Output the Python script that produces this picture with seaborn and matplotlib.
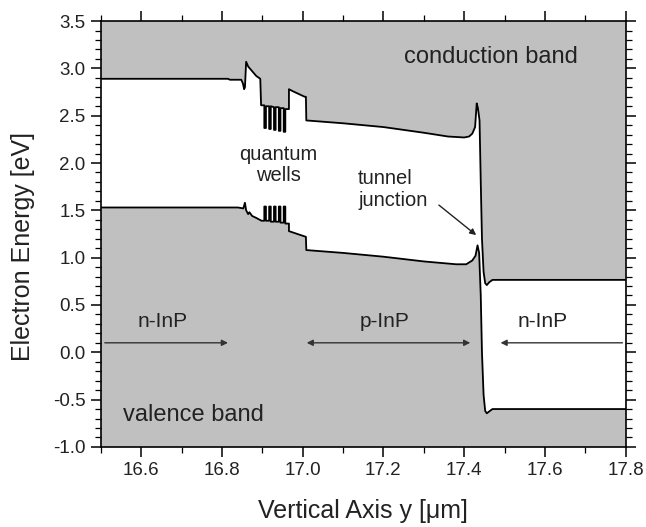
import numpy as np
import pandas as pd
import matplotlib
matplotlib.use("Agg")
import matplotlib.pyplot as plt
from matplotlib.ticker import MultipleLocator
import seaborn as sns

# ---- data ----
# Conduction band edge (position in um, energy in eV)
ec_x = [16.50, 16.815, 16.82, 16.848, 16.852, 16.855, 16.857, 16.860, 16.865, 16.875, 16.885, 16.895, 16.897,
        16.905, 16.905, 16.909, 16.909,
        16.917, 16.917, 16.921, 16.921,
        16.929, 16.929, 16.933, 16.933,
        16.941, 16.941, 16.945, 16.945,
        16.953, 16.953, 16.957, 16.957,
        16.966, 16.966, 16.975, 16.990, 17.005, 17.008, 17.009,
        17.10, 17.20, 17.30, 17.36, 17.40, 17.412, 17.420, 17.427, 17.431, 17.434, 17.438,
        17.441, 17.444, 17.448, 17.452, 17.456, 17.462, 17.470, 17.80]
ec_e = [2.89, 2.89, 2.88, 2.88, 2.84, 2.78, 2.80, 3.07, 3.02, 2.97, 2.92, 2.89, 2.61,
        2.61, 2.37, 2.37, 2.60,
        2.60, 2.36, 2.36, 2.60,
        2.59, 2.35, 2.35, 2.59,
        2.59, 2.34, 2.34, 2.58,
        2.58, 2.33, 2.33, 2.57,
        2.57, 2.78, 2.76, 2.73, 2.70, 2.70, 2.45,
        2.42, 2.38, 2.32, 2.28, 2.27, 2.28, 2.31, 2.38, 2.63, 2.58, 2.45,
        1.80, 1.20, 0.85, 0.73, 0.71, 0.74, 0.765, 0.765]

# Valence band edge
ev_x = [16.50, 16.84, 16.853, 16.857, 16.860, 16.865, 16.868, 16.875, 16.885, 16.898,
        16.905, 16.905, 16.909, 16.909,
        16.917, 16.917, 16.921, 16.921,
        16.929, 16.929, 16.933, 16.933,
        16.941, 16.941, 16.945, 16.945,
        16.953, 16.953, 16.957, 16.957,
        16.966, 16.966, 16.980, 17.008, 17.009,
        17.10, 17.20, 17.30, 17.38, 17.405, 17.420, 17.428, 17.433, 17.437,
        17.441, 17.444, 17.448, 17.452, 17.456, 17.462, 17.470, 17.80]
ev_e = [1.53, 1.53, 1.52, 1.58, 1.50, 1.46, 1.48, 1.44, 1.42, 1.39,
        1.39, 1.54, 1.54, 1.39,
        1.39, 1.54, 1.54, 1.38,
        1.38, 1.54, 1.54, 1.38,
        1.38, 1.54, 1.54, 1.37,
        1.37, 1.54, 1.54, 1.36,
        1.36, 1.28, 1.26, 1.22, 1.08,
        1.05, 1.01, 0.96, 0.93, 0.93, 0.97, 1.02, 1.13, 1.05,
        0.60, 0.00, -0.45, -0.62, -0.645, -0.625, -0.60, -0.60]

x_ticks = [16.6, 16.8, 17.0, 17.2, 17.4, 17.6, 17.8]
y_ticks = [-1.0, -0.5, 0.0, 0.5, 1.0, 1.5, 2.0, 2.5, 3.0, 3.5]

# region (doping) arrows: label, label x, arrow start, arrow end, style
region_labels = ["n-InP", "p-InP", "n-InP"]
region_label_x = [16.653, 17.204, 17.595]
region_arrow_from = [16.51, 17.01, 17.792]
region_arrow_to = [16.815, 17.415, 17.49]
region_label_y = 0.33
region_arrow_y = 0.10

# ---- plotting ----
sns.set_style("ticks")
plt.rcParams["font.family"] = ["Liberation Sans", "DejaVu Sans"]

fig = plt.figure(figsize=(6.46, 5.27), dpi=100)
ax = fig.add_axes([0.156, 0.152, 0.8126, 0.808])
ax.set_facecolor("#c0c0c0")

# white gap between the band edges
poly_x = list(ec_x) + list(ev_x[::-1])
poly_y = list(ec_e) + list(ev_e[::-1])
ax.fill(poly_x, poly_y, color="white", zorder=1, lw=0)

df_c = pd.DataFrame({"y": ec_x, "E": ec_e})
df_v = pd.DataFrame({"y": ev_x, "E": ev_e})
sns.lineplot(data=df_c, x="y", y="E", sort=False, estimator=None, color="black", lw=1.3, ax=ax, zorder=3)
sns.lineplot(data=df_v, x="y", y="E", sort=False, estimator=None, color="black", lw=1.3, ax=ax, zorder=3)

ax.set_xlim(16.5, 17.8)
ax.set_ylim(-1.0, 3.5)
ax.set_xticks(x_ticks)
ax.set_yticks(y_ticks)
ax.xaxis.set_minor_locator(MultipleLocator(0.1))
ax.yaxis.set_minor_locator(MultipleLocator(0.1))
ax.set_xticklabels([f"{v:.1f}" for v in x_ticks])
ax.set_yticklabels([f"{v:.1f}" for v in y_ticks])
ax.tick_params(which="both", direction="out", top=True, right=True, color="black",
               labelcolor="#222222", labelsize=13.5)
ax.tick_params(which="major", length=7, width=1.1, pad=4)
ax.tick_params(which="minor", length=4, width=0.9)
for s in ax.spines.values():
    s.set_visible(True)
    s.set_linewidth(1.2)
    s.set_color("black")
    s.set_zorder(5)

ax.set_xlabel("Vertical Axis y [\u03bcm]", fontsize=18, color="#222222", labelpad=14)
ax.set_ylabel("Electron Energy [eV]", fontsize=18, color="#222222")
ax.yaxis.set_label_coords(-0.125, 0.47)

txt = "#222222"
ax.text(17.466, 3.12, "conduction band", fontsize=17, color=txt, ha="center", va="center", zorder=4)
ax.text(16.73, -0.66, "valence band", fontsize=17, color=txt, ha="center", va="center", zorder=4)
ax.text(16.94, 1.98, "quantum\nwells", fontsize=14.5, color=txt, ha="center", va="center",
        linespacing=1.15, zorder=4)
ax.text(17.137, 1.72, "tunnel\njunction", fontsize=14.5, color=txt, ha="left", va="center",
        linespacing=1.15, zorder=4)
ax.annotate("", xy=(17.435, 1.22), xytext=(17.332, 1.574),
            arrowprops=dict(arrowstyle="-|>", color="#222222", lw=1.0, mutation_scale=9), zorder=4)

styles = ["-|>", "<|-|>", "-|>"]
for lab, lx, a0, a1, st in zip(region_labels, region_label_x, region_arrow_from, region_arrow_to, styles):
    ax.text(lx, region_label_y, lab, fontsize=15, color=txt, ha="center", va="center", zorder=4)
    ax.annotate("", xy=(a1, region_arrow_y), xytext=(a0, region_arrow_y),
                arrowprops=dict(arrowstyle=st, color="#333333", lw=1.0, mutation_scale=9,
                                shrinkA=0, shrinkB=0), zorder=4)

fig.savefig("out.png", dpi=100, facecolor="white")
